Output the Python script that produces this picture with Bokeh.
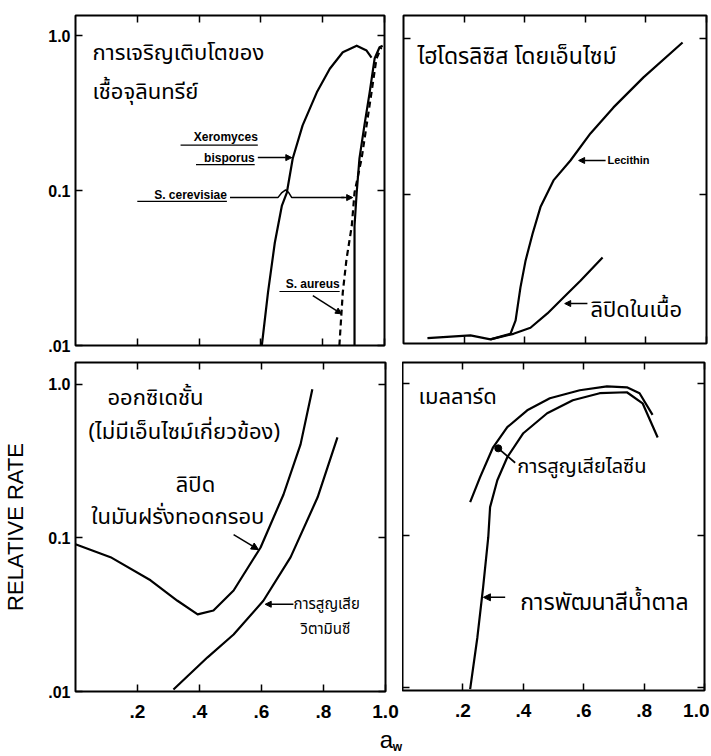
from bokeh.plotting import figure
from bokeh.models import Range1d, FixedTicker, LogAxis, LinearAxis, Arrow, NormalHead
from bokeh.layouts import column, row
from bokeh.embed import file_html
from bokeh.resources import INLINE
from bokeh.core.properties import value

# ---------------- data ----------------
# Top-left: microbial growth
xero_x = [0.603, 0.623, 0.645, 0.668, 0.684, 0.703, 0.735, 0.781, 0.823, 0.865, 0.91, 0.942, 0.958]
xero_y = [0.01, 0.022, 0.046, 0.08, 0.097, 0.161, 0.263, 0.43, 0.61, 0.78, 0.86, 0.80, 0.72]
cere_x = [0.903, 0.903, 0.91, 0.919, 0.935, 0.952, 0.968, 0.984, 0.994]
cere_y = [0.01, 0.059, 0.097, 0.161, 0.263, 0.43, 0.71, 0.84, 0.86]
aur_x = [0.854, 0.865, 0.877, 0.894, 0.903, 0.926, 0.942, 0.958, 0.974, 0.99]
aur_y = [0.01, 0.022, 0.036, 0.059, 0.097, 0.161, 0.263, 0.43, 0.71, 0.84]

# Top-right: enzymic hydrolysis
lec_x = [0.079, 0.221, 0.287, 0.353, 0.37, 0.386, 0.403, 0.426, 0.452, 0.495, 0.551, 0.617, 0.693, 0.792, 0.921]
lec_y = [0.012, 0.0125, 0.0118, 0.0128, 0.0156, 0.0254, 0.0378, 0.056, 0.083, 0.123, 0.165, 0.246, 0.361, 0.562, 0.94]
tis_x = [0.287, 0.363, 0.419, 0.475, 0.528, 0.584, 0.657]
tis_y = [0.0118, 0.0128, 0.014, 0.0173, 0.0219, 0.028, 0.0395]

# Bottom-left: non-enzymic oxidation
lip_x = [0.0, 0.113, 0.242, 0.329, 0.394, 0.445, 0.51, 0.597, 0.671, 0.726, 0.764]
lip_y = [0.091, 0.075, 0.053, 0.039, 0.0318, 0.0337, 0.0455, 0.0867, 0.192, 0.407, 0.93]
vit_x = [0.316, 0.426, 0.51, 0.606, 0.694, 0.781, 0.845]
vit_y = [0.0103, 0.0167, 0.0235, 0.039, 0.075, 0.184, 0.452]

# Bottom-right: Maillard
lys_x = [0.224, 0.257, 0.30, 0.347, 0.413, 0.488, 0.587, 0.677, 0.743, 0.785, 0.828]
lys_y = [0.165, 0.241, 0.379, 0.514, 0.664, 0.797, 0.90, 0.955, 0.94, 0.86, 0.62]
brn_x = [0.224, 0.248, 0.267, 0.284, 0.29, 0.314, 0.347, 0.40, 0.479, 0.564, 0.653, 0.743, 0.795, 0.845]
brn_y = [0.0097, 0.0213, 0.0455, 0.097, 0.153, 0.23, 0.326, 0.469, 0.635, 0.773, 0.86, 0.873, 0.738, 0.44]

x_ticks = [0.2, 0.4, 0.6, 0.8, 1.0]
x_tick_labels = [".2", ".4", ".6", ".8", "1.0"]
y_ticks = [0.01, 0.1, 1.0]
y_tick_labels = [".01", "0.1", "1.0"]

THAI = "Noto Sans Thai, Noto Sans, Loma, sans-serif"
NUM = "Liberation Sans Narrow, Liberation Sans, sans-serif"
LAT = "Liberation Sans, sans-serif"


def make_fig(fw, fh, bl, br, bt, bb, y_start, y_end, show_x, show_y):
    p = figure(frame_width=fw, frame_height=fh,
               min_border_left=bl, min_border_right=br,
               min_border_top=bt, min_border_bottom=bb,
               x_range=Range1d(0, 1.0), y_range=Range1d(y_start, y_end),
               y_axis_type="log", output_backend="svg", toolbar_location=None)
    p.add_layout(LinearAxis(), "above")
    p.add_layout(LogAxis(), "right")
    p.xgrid.visible = False
    p.ygrid.visible = False
    p.outline_line_color = "black"
    p.outline_line_width = 2
    p.background_fill_color = "white"
    p.border_fill_color = "white"
    for ax in p.xaxis:
        ax.ticker = FixedTicker(ticks=x_ticks)
        ax.major_label_overrides = dict(zip(x_ticks, x_tick_labels))
    for ax in p.yaxis:
        ax.ticker = FixedTicker(ticks=y_ticks)
        ax.major_label_overrides = dict(zip(y_ticks, y_tick_labels))
    for ax in p.xaxis + p.yaxis:
        ax.axis_line_color = None
        ax.major_tick_in = 7
        ax.major_tick_out = 0
        ax.minor_tick_in = 0
        ax.minor_tick_out = 0
        ax.major_tick_line_width = 1.5
        ax.major_tick_line_color = "black"
        ax.major_label_text_font = NUM
        ax.major_label_text_color = None
        ax.major_label_text_font_style = "bold"
        ax.major_label_text_font_size = "1px"
        ax.major_label_standoff = 0
    if show_x:
        ax = p.below[0]
        ax.major_label_text_color = "black"
        ax.major_label_text_font_size = "19px"
        ax.major_label_standoff = 13
    if show_y:
        ax = p.left[0]
        ax.major_label_text_color = "black"
        ax.major_label_text_font_size = "16px"
        ax.major_label_standoff = 5
    return p


def curve(p, xs, ys, dash="solid"):
    p.line(xs, ys, line_color="black", line_width=2.2, line_dash=dash, line_join="round")


def txt(p, x, y, s, size, align="left", font=THAI, style="normal"):
    p.text([x], [y], text=[s], text_font=value(font), text_font_size=size,
           text_font_style=style, text_align=align, text_baseline="middle", text_color="black")


def arrow(p, x0, y0, x1, y1, size=7):
    p.add_layout(Arrow(end=NormalHead(size=size, fill_color="black", line_color="black"),
                       x_start=x0, y_start=y0, x_end=x1, y_end=y1,
                       line_color="black", line_width=1.5))


# ---------------- top-left ----------------
tl = make_fig(309, 330, 75, 9, 10, 14, 0.01, 1.346, False, True)
curve(tl, xero_x, xero_y)
curve(tl, cere_x, cere_y)
curve(tl, aur_x, aur_y, "6 4")
txt(tl, 0.055, 0.765, "การเจริญเติบโตของ", "22px")
txt(tl, 0.055, 0.43, "เชื้อจุลินทรีย์", "22px")
txt(tl, 0.59, 0.22, "Xeromyces", "12px", "right", LAT, "bold")
txt(tl, 0.58, 0.163, "bisporus", "12px", "right", LAT, "bold")
txt(tl, 0.49, 0.094, "S. cerevisiae", "12px", "right", LAT, "bold")
txt(tl, 0.855, 0.025, "S. aureus", "12px", "right", LAT, "bold")
tl.segment(x0=[0.34, 0.39, 0.20, 0.66], y0=[0.196, 0.147, 0.085, 0.0223],
           x1=[0.59, 0.58, 0.49, 0.855], y1=[0.196, 0.147, 0.085, 0.0223],
           line_color="black", line_width=1.2)
arrow(tl, 0.59, 0.163, 0.70, 0.163, 6)
tl.line([0.50, 0.655, 0.668, 0.680, 0.69, 0.70, 0.87],
        [0.09, 0.09, 0.097, 0.101, 0.097, 0.09, 0.09], line_color="black", line_width=1.5)
arrow(tl, 0.86, 0.09, 0.897, 0.09, 6)
arrow(tl, 0.768, 0.021, 0.861, 0.016, 6)

# ---------------- top-right ----------------
tr = make_fig(303, 328, 10, 5, 15, 11, 0.0111, 1.40, False, False)
curve(tr, lec_x, lec_y)
curve(tr, tis_x, tis_y)
txt(tr, 0.046, 0.755, "ไฮโดรลิซิส โดยเอ็นไซม์", "23px")
txt(tr, 0.673, 0.165, "Lecithin", "11px", "left", LAT, "bold")
arrow(tr, 0.667, 0.165, 0.578, 0.165, 6)
txt(tr, 0.617, 0.018, "ลิปิดในเนื้อ", "22px")
arrow(tr, 0.607, 0.02, 0.532, 0.02, 6)

# ---------------- bottom-left ----------------
bl = make_fig(310, 329, 75, 17, 1, 42, 0.01, 1.39, True, True)
bl.left[0].axis_label = "RELATIVE RATE"
bl.left[0].axis_label_text_font = LAT
bl.left[0].axis_label_text_font_style = "normal"
bl.left[0].axis_label_text_font_size = "22px"
bl.left[0].axis_label_text_color = "black"
bl.left[0].axis_label_standoff = 17
curve(bl, lip_x, lip_y)
curve(bl, vit_x, vit_y)
txt(bl, 0.103, 0.81, "ออกซิเดชั้น", "22px")
txt(bl, 0.042, 0.486, "(ไม่มีเอ็นไซม์เกี่ยวข้อง)", "22px")
txt(bl, 0.387, 0.22, "ลิปิด", "22px", "center")
txt(bl, 0.33, 0.136, "ในมันฝรั่งทอดกรอบ", "22px", "center")
arrow(bl, 0.51, 0.105, 0.59, 0.084, 7)
txt(bl, 0.703, 0.037, "การสูญเสีย", "15px")
txt(bl, 0.726, 0.0254, "วิตามินซี", "15px")
arrow(bl, 0.703, 0.037, 0.612, 0.037, 6)

# ---------------- bottom-right ----------------
br = make_fig(302, 328, 0, 5, 8, 36, 0.0095, 1.37, True, False)
curve(br, lys_x, lys_y)
curve(br, brn_x, brn_y)
txt(br, 0.053, 0.81, "เมลลาร์ด", "22px")
txt(br, 0.38, 0.28, "การสูญเสียไลซีน", "20px")
br.line([0.373, 0.317], [0.30, 0.373], line_color="black", line_width=1.8)
br.scatter([0.317], [0.373], size=7, color="black")
txt(br, 0.39, 0.0357, "การพัฒนาสีน้ำตาล", "23px")
arrow(br, 0.34, 0.039, 0.268, 0.039, 7)

# ---------------- shared x-axis title strip (a_w) ----------------
strip = figure(frame_width=711, frame_height=30, min_border=0,
               x_range=Range1d(0, 711), y_range=Range1d(30, 0),
               x_axis_location=None, y_axis_location=None,
               output_backend="svg", toolbar_location=None)
strip.xgrid.visible = False
strip.ygrid.visible = False
strip.outline_line_color = None
strip.background_fill_color = "white"
strip.border_fill_color = "white"
txt(strip, 386, 13, "a", "24px", "center", LAT)
txt(strip, 397, 20, "w", "12px", "center", LAT, "bold")

layout = column(row(tl, tr), row(bl, br), strip)
open("out.html", "w").write(file_html(layout, INLINE))
